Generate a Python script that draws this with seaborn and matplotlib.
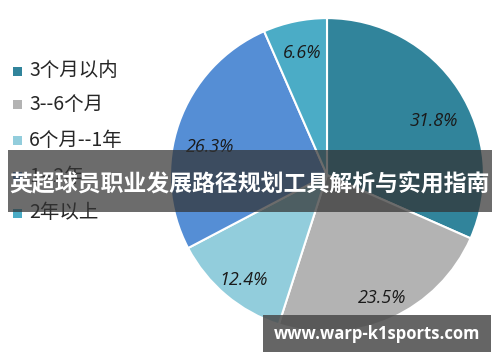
import matplotlib
matplotlib.use("Agg")
import matplotlib.pyplot as plt
import seaborn as sns
import numpy as np

sns.set_theme(style="white")
plt.rcParams['font.family'] = ['Noto Sans CJK SC', 'DejaVu Sans']

categories = ["3个月以内", "3--6个月", "6个月--1年", "1--2年", "2年以上"]
values = [31.8, 23.5, 12.4, 26.3, 6.6]
colors = ["#31849B", "#B3B3B3", "#92CDDC", "#558ED5", "#4BACC6"]
title = "英超球员职业发展路径规划工具解析与实用指南"
watermark = "www.warp-k1sports.com"
# small label nudges (points) to mimic the original best-fit placement
label_nudge = [(-2, -12), (1, -3), (0, -4), (4, -11), (1, -4)]

fig = plt.figure(figsize=(5.0, 3.62), dpi=100)
fig.patch.set_facecolor("white")
ax = fig.add_axes([0.34, 0.083, 0.628, 0.867])
wedges, _ = ax.pie(values, colors=colors, startangle=90, counterclock=False,
                   wedgeprops=dict(edgecolor="white", linewidth=1.5))
ax.set_xlim(-1.0, 1.0)
ax.set_ylim(-1.0, 1.0)
ax.set_aspect("equal")
for w, v, nd in zip(wedges, values, label_nudge):
    ang = np.deg2rad((w.theta1 + w.theta2) / 2)
    r = 0.83
    ax.annotate(f"{v:.1f}%", (r * np.cos(ang), r * np.sin(ang)), xytext=nd,
                textcoords="offset points", ha="center", va="center",
                fontsize=13, style="italic", color="#1a1a1a",
                family=["Open Sans", "DejaVu Sans"])

# legend
leg_y = [71, 104, 140, 177, 213]
for c, lab, y in zip(colors, categories, leg_y):
    fy = 1 - y / 362
    fig.patches.append(plt.Rectangle((13 / 500, fy - 4.5 / 362), 9 / 500, 9 / 362,
                                     transform=fig.transFigure, facecolor=c, edgecolor="none"))
    fig.text(29 / 500, fy, lab, fontsize=14, style="italic", color="#262626",
             va="center", ha="left")

# banner
fig.patches.append(plt.Rectangle((8 / 500, 1 - 212 / 362), 484 / 500, 62 / 362,
                                 transform=fig.transFigure, facecolor="#333333",
                                 alpha=0.72, edgecolor="none", zorder=10))
fig.text(250 / 500, 1 - 184 / 362, title, fontsize=16.5, fontweight="bold", color="white",
         ha="center", va="center", zorder=11)

# watermark
fig.patches.append(plt.Rectangle((263 / 500, 1 - 352 / 362), 228 / 500, 37 / 362,
                                 transform=fig.transFigure, facecolor="#4a4a4a",
                                 alpha=0.85, edgecolor="none", zorder=10))
fig.text(377 / 500, 1 - 334 / 362, watermark, fontsize=12, fontweight="bold", color="white",
         ha="center", va="center", zorder=11, family=["Open Sans", "DejaVu Sans"])

fig.savefig("out.png", dpi=100)
